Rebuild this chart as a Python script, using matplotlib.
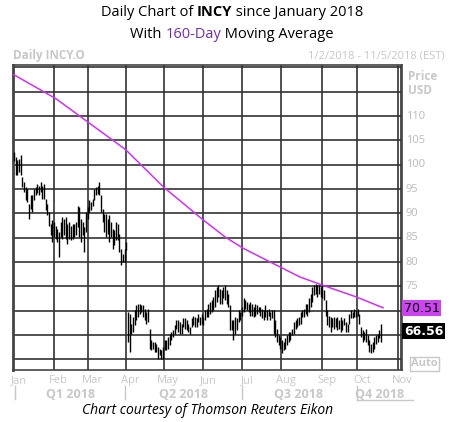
import matplotlib.pyplot as plt
import numpy as np

# daily high / low (trading-day order)
highs = [102.7, 101.6, 100.9, 101.2, 102.0, 97.5, 96.4, 95.4, 95.1, 92.0, 93.7, 93.7, 95.1, 95.4, 96.1, 95.7, 96.4,
         95.7, 96.1, 93.0, 92.0, 90.3, 87.9, 88.6, 88.2, 87.5, 86.8, 86.2, 88.2, 89.2, 88.9, 89.2, 87.9, 88.2, 87.5,
         87.9, 87.9, 88.2, 91.6, 91.3, 88.9, 88.2, 87.2, 90.3, 91.3, 92.7, 92.3, 93.0, 95.1, 95.4, 95.7, 96.4, 93.7,
         91.0, 89.9, 89.9, 88.9, 89.6, 88.2, 86.8, 86.5, 88.2, 87.9, 85.8, 82.7, 81.7, 82.7, 84.1,
         69.7, 69.4, 67.3, 68.7, 70.1, 71.1, 71.4, 71.4, 71.1, 71.1, 70.4, 69.7, 70.4, 66.3, 63.9, 63.6, 63.6, 63.2,
         62.5, 62.2, 61.9, 62.5, 63.9, 63.9, 64.6, 65.3, 65.6, 66.0, 67.0, 68.0, 68.0, 67.7, 67.3, 68.4, 68.4, 68.0,
         67.3, 66.7, 68.4, 69.0, 68.7, 68.4, 69.4, 68.7, 69.4, 68.7, 70.1, 70.4, 71.4, 71.8, 72.1, 72.8, 74.2, 74.9,
         75.2, 74.5, 74.2, 74.9, 75.2, 74.2, 73.5, 71.1, 68.0, 68.0, 68.7, 68.4, 70.1, 69.7, 70.8, 72.5, 72.1, 71.8,
         71.4, 71.8, 71.4, 70.8, 71.4, 71.1, 70.8, 70.8, 70.4, 70.1, 71.1, 70.1, 70.4, 69.7, 70.1,
         70.1, 68.0, 66.3, 64.9, 64.6, 63.9, 63.6, 64.3, 64.9, 65.6, 65.6, 66.3, 67.7, 68.0, 68.4, 68.7, 69.7, 70.1,
         70.4, 71.4, 71.4, 72.5, 73.5, 74.9, 75.2, 75.55, 75.2, 75.2, 74.9, 75.55, 74.2, 72.1, 70.1, 69.0, 68.7, 68.4,
         68.7, 68.4, 68.7, 68.0, 68.7, 68.0, 68.4, 67.7, 67.3, 69.4, 70.1, 69.7, 70.4, 70.1, 70.4, 69.4, 66.7, 66.0,
         65.6, 66.3, 64.9, 63.9, 63.2, 63.6, 64.6, 64.9, 65.3, 66.0, 67.3]
lows = [100.7, 97.8, 97.8, 98.5, 97.8, 95.4, 94.4, 92.7, 92.3, 88.9, 91.0, 90.3, 92.7, 93.7, 94.1, 93.7, 94.4,
        93.0, 93.0, 90.6, 89.6, 87.5, 85.5, 84.1, 85.1, 84.8, 84.1, 81.0, 85.1, 84.8, 85.5, 84.8, 83.8, 84.8, 84.5,
        84.8, 85.1, 85.5, 87.2, 85.1, 84.1, 85.5, 82.1, 86.2, 88.9, 90.3, 90.6, 91.6, 92.7, 93.7, 94.0, 93.7, 90.3,
        88.2, 86.2, 85.1, 85.8, 84.1, 85.1, 82.7, 83.4, 84.5, 84.5, 82.1, 79.3, 80.0, 80.0, 82.4,
        63.6, 61.5, 65.3, 65.6, 67.0, 68.0, 68.7, 69.4, 69.7, 68.7, 68.0, 67.3, 67.7, 62.2, 61.9, 62.2, 61.5, 61.5,
        60.1, 60.8, 60.1, 60.1, 61.9, 61.9, 62.2, 62.9, 63.9, 64.6, 65.3, 66.3, 65.6, 65.3, 65.3, 66.7, 66.3, 66.0,
        65.6, 65.3, 66.7, 67.0, 66.7, 66.7, 67.7, 67.0, 67.3, 67.0, 68.0, 68.7, 68.7, 69.4, 69.7, 70.1, 70.8, 71.8,
        72.8, 71.4, 71.4, 72.5, 72.1, 71.4, 70.8, 66.0, 66.0, 63.9, 65.3, 66.0, 67.7, 68.0, 69.0, 69.7, 70.4, 70.1,
        69.7, 69.0, 69.0, 68.7, 69.0, 69.4, 69.7, 69.0, 68.4, 68.0, 68.7, 68.0, 69.0, 68.0, 68.4,
        65.3, 64.6, 63.6, 62.9, 62.2, 61.2, 61.9, 62.2, 62.9, 63.6, 64.0, 64.9, 65.3, 66.3, 66.7, 67.0, 67.3, 68.7,
        68.7, 69.4, 69.0, 69.7, 70.8, 71.8, 73.2, 73.5, 72.8, 73.5, 72.8, 72.5, 72.1, 69.0, 67.0, 66.7, 65.6, 66.7,
        66.3, 66.7, 65.95, 66.3, 65.6, 66.0, 67.0, 65.6, 65.6, 67.3, 68.4, 68.4, 68.7, 68.7, 69.0, 67.3, 64.6, 63.6,
        64.0, 63.6, 62.9, 61.5, 61.2, 61.5, 62.2, 63.2, 63.6, 64.3, 63.6]

# 160-day moving average, sampled points (bar index, value)
ma_idx = [0, 25, 52.4, 66.7, 89.3, 113.1, 126.2, 136.9, 152.9, 170.8, 186.9, 203.6, 220.2]
ma_val = [118.5, 113.6, 106.7, 103.1, 95.4, 88.6, 85.1, 82.8, 80.0, 76.9, 74.9, 72.9, 70.6]

months = ['Jan', 'Feb', 'Mar', 'Apr', 'May', 'Jun', 'Jul', 'Aug', 'Sep', 'Oct', 'Nov']
month_pos = [0, 23.8, 44, 66.7, 89.3, 113, 136.3, 159.5, 184, 204.8, 229]
quarters = ['Q1 2018', 'Q2 2018', 'Q3 2018', 'Q4 2018']
quarter_pos = [34, 101, 170, 218]
price_ticks = [110, 105, 100, 95, 90, 85, 80, 75, 70, 65]
last_ma = 70.51
last_close = 66.56

W, H = 449, 422
fig = plt.figure(figsize=(W / 100, H / 100), dpi=100)
ax = fig.add_axes([13 / W, 1 - 370 / H, (402 - 13) / W, (370 - 65) / H])
x0, x1 = -0.5, 231.5
y0, y1 = 57.8, 120.5
ax.set_xlim(x0, x1)
ax.set_ylim(y0, y1)

for p in range(60, 121, 5):
    ax.axhline(p, color='#333333', lw=1.2, zorder=1)
for m in month_pos[1:]:
    ax.axvline(m, color='#333333', lw=1.2, zorder=1)
ax.axvline(231, color='#333333', lw=1.2)

xs = np.arange(len(highs))
ax.vlines(xs, lows, highs, color='black', lw=1.0, zorder=3)
ax.plot(ma_idx, ma_val, color='#cc33ee', lw=1.1, zorder=4)

for s in ax.spines.values():
    s.set_color('#444444')
    s.set_linewidth(1.2)
ax.spines['left'].set_linewidth(2)
ax.set_xticks([])
ax.set_yticks([])

grey = '#c8c8c8'
tf = 'Open Sans'
# right axis labels
for p in price_ticks:
    ax.text(1.01, (p - y0) / (y1 - y0), str(p), transform=ax.transAxes, fontsize=8, color='#bbbbbb',
            va='center', ha='left', family=tf)
fig.text(408 / W, 1 - 77 / H, 'Price', fontsize=8.5, color=grey, weight='bold', va='center', family=tf)
fig.text(408 / W, 1 - 91 / H, 'USD', fontsize=8.5, color=grey, weight='bold', va='center', family=tf)
ax.text(1.005, (last_ma - y0) / (y1 - y0), f'{last_ma:.2f}', transform=ax.transAxes, fontsize=9,
        color='black', va='center', ha='left', family='DejaVu Sans', zorder=5,
        bbox=dict(boxstyle='square,pad=0.12', fc='#cc44f0', ec='none'))
ax.text(1.005, (last_close - y0) / (y1 - y0) - 0.012, f'{last_close:.2f}', transform=ax.transAxes, fontsize=9,
        color='white', weight='bold', va='center', ha='left', family='DejaVu Sans', zorder=5,
        bbox=dict(boxstyle='square,pad=0.12', fc='black', ec='none'))
fig.text(411 / W, 1 - 364 / H, 'Auto', fontsize=8, color=grey, weight='bold', va='center', family=tf,
         bbox=dict(boxstyle='square,pad=0.1', fc='white', ec=grey))

# month and quarter labels
for m, lab in zip(month_pos, months):
    ax.text((m - x0) / (x1 - x0) + 0.012, -0.035, lab, transform=ax.transAxes, fontsize=8, color=grey,
            ha='center', va='center', family=tf)
for q, lab in zip(quarter_pos, quarters):
    ax.text((q - x0) / (x1 - x0), -0.08, lab, transform=ax.transAxes, fontsize=9, color=grey,
            weight='bold', ha='center', va='center', family=tf)
for px in [15, 125, 242]:
    fig.add_artist(plt.Line2D([px / W, px / W], [1 - 386 / H, 1 - 399 / H], color=grey, lw=1))
fig.add_artist(plt.Line2D([357 / W, 357 / W], [1 - 386 / H, 1 - 400 / H], color=grey, lw=1))
fig.add_artist(plt.Line2D([357 / W, 413 / W], [1 - 400 / H, 1 - 400 / H], color=grey, lw=1))

fig.text(13 / W, 1 - 56 / H, 'Daily INCY.O', fontsize=8.5, color=grey, weight='bold', va='center', family=tf)
fig.text(445 / W, 1 - 56 / H, '1/2/2018 - 11/5/2018 (EST)', fontsize=8, color=grey, ha='right', va='center',
         family=tf)


def line_parts(parts, y, size=10.5):
    fig.canvas.draw()
    r = fig.canvas.get_renderer()
    objs = [fig.text(0, y, t, fontsize=size, family=tf, va='center', **kw) for t, kw in parts]
    widths = [o.get_window_extent(r).width for o in objs]
    x = 232 - sum(widths) / 2
    for o, w in zip(objs, widths):
        o.set_x(x / W)
        x += w


line_parts([('Daily Chart of ', {}), ('INCY', {'weight': 'bold'}), (' since January 2018', {})], 1 - 12 / H)
line_parts([('With ', {}), ('160-Day', {'color': '#7030a0'}), (' Moving Average', {})], 1 - 34 / H)

fig.text(208 / W, 1 - 411 / H, 'Chart courtesy of Thomson Reuters Eikon', fontsize=10, style='italic',
         ha='center', va='center', family=tf)

fig.savefig('out.png', dpi=100)
